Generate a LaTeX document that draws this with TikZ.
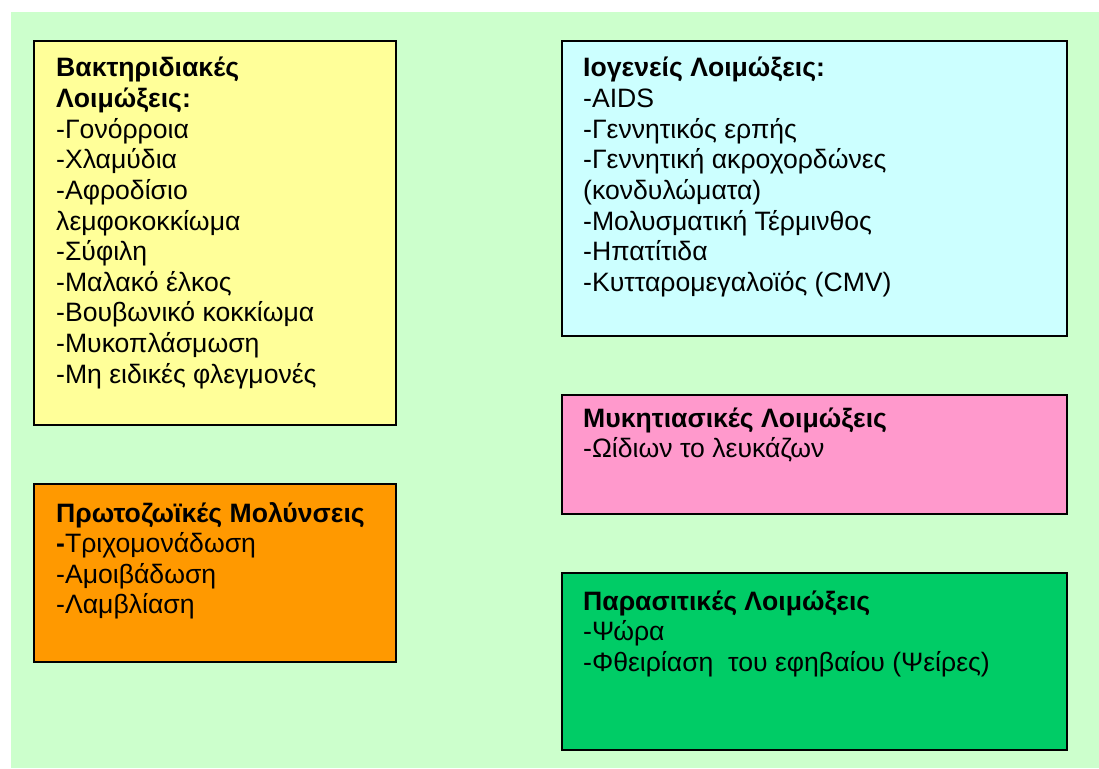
\documentclass[tikz,border=0pt]{standalone}
\usepackage{fontspec}
\setmainfont{Liberation Sans}
\definecolor{bgc}{HTML}{CCFFCC}
\definecolor{yel}{HTML}{FFFF99}
\definecolor{ora}{HTML}{FF9900}
\definecolor{cya}{HTML}{CCFFFF}
\definecolor{pin}{HTML}{FF99CC}
\definecolor{gre}{HTML}{00CC66}
\newcommand\MyLines[1]{\vtop{\baselineskip=30.6pt\lineskiplimit=-100pt\halign{##\hfil\cr#1\crcr}}}
\tikzset{
  boxstyle/.style={draw=black, line width=1.6pt},
  txtstyle/.style={anchor=base west, inner sep=0pt,
    font=\fontsize{26.6}{30.6}\selectfont},
}
\begin{document}
\begin{tikzpicture}[x=1pt,y=-1pt]
\useasboundingbox (0,0) rectangle (1099,768);
\fill[white] (0,0) rectangle (1099,768);
\fill[bgc] (11,12) rectangle (1099,768);
% boxes
\filldraw[boxstyle, fill=yel] (34,41) rectangle (396,425);
\filldraw[boxstyle, fill=ora] (34,484) rectangle (396,662);
\filldraw[boxstyle, fill=cya] (562,41) rectangle (1067,336);
\filldraw[boxstyle, fill=pin] (562,395) rectangle (1067,514);
\filldraw[boxstyle, fill=gre] (562,573) rectangle (1067,750);
% texts
\node[txtstyle] (tb) at (56,77) {\MyLines{\textbf{Βακτηριδιακές}\cr\textbf{Λοιμώξεις:}\cr-Γονόρροια\cr-Χλαμύδια\cr-Αφροδίσιο\cr λεμφοκοκκίωμα\cr-Σύφιλη\cr-Μαλακό έλκος\cr-Βουβωνικό κοκκίωμα\cr-Μυκοπλάσμωση\cr-Μη ειδικές φλεγμονές}};
\node[txtstyle] (tp) at (56,522) {\MyLines{\textbf{Πρωτοζωϊκές Μολύνσεις}\cr\textbf{-}Τριχομονάδωση\cr-Αμοιβάδωση\cr-Λαμβλίαση}};
\node[txtstyle] (tv) at (583,77) {\MyLines{\textbf{Ιογενείς Λοιμώξεις:}\cr-AIDS\cr-Γεννητικός ερπής\cr-Γεννητική ακροχορδώνες\cr(κονδυλώματα)\cr-Μολυσματική Τέρμινθος\cr-Ηπατίτιδα\cr-Κυτταρομεγαλοϊός (CMV)}};
\node[txtstyle] (tf) at (583,427) {\MyLines{\textbf{Μυκητιασικές Λοιμώξεις}\cr-Ωίδιων το λευκάζων}};
\node[txtstyle] (tr) at (583,610) {\MyLines{\textbf{Παρασιτικές Λοιμώξεις}\cr-Ψώρα\cr-Φθειρίαση\ \ του εφηβαίου (Ψείρες)}};
\end{tikzpicture}
\end{document}
